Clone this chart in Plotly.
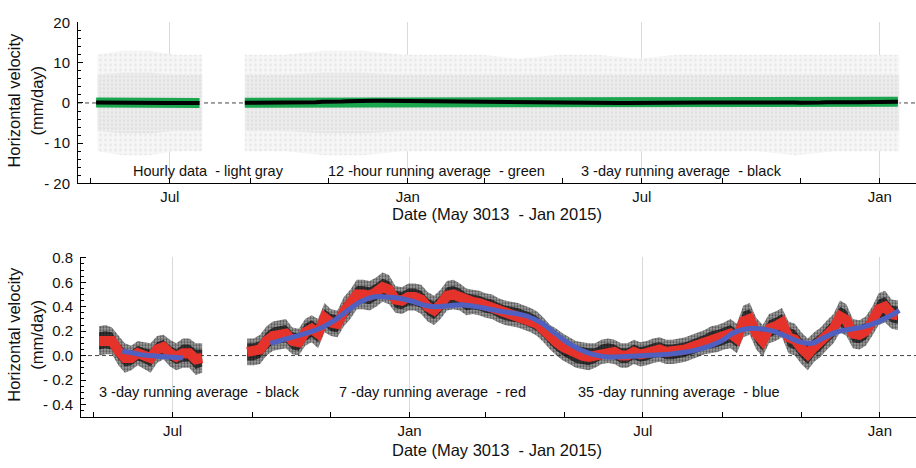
import pandas as pd
import plotly.graph_objects as go

# ---------------- data ----------------
# 5-day sampling grid for the running-average series
seg1_start = "2013-05-05"
seg2_start = "2013-08-28"
grid_step = "5D"

# 7-day running average (mm/day) - also the centre of the 3-day average cloud
run7_seg1 = [0.12, 0.13, 0.12, 0.04, -0.02, -0.02, 0.02, 0.00, -0.02, 0.05,
             0.07, 0.02, -0.01, 0.02, 0.02, -0.03, -0.02]
run7_seg2 = [0.03, 0.03, 0.05, 0.12, 0.16, 0.17, 0.18, 0.12, 0.11, 0.19,
             0.22, 0.18, 0.31, 0.27, 0.26, 0.36, 0.42, 0.50, 0.50, 0.49,
             0.52, 0.56, 0.54, 0.46, 0.45, 0.48, 0.48, 0.46, 0.40, 0.37,
             0.42, 0.49, 0.50, 0.48, 0.44, 0.44, 0.43, 0.41, 0.40, 0.37,
             0.35, 0.34, 0.33, 0.31, 0.29, 0.26, 0.21, 0.15, 0.11, 0.07,
             0.04, 0.01, 0.00, -0.01, 0.00, 0.03, 0.04, 0.03, 0.00, 0.00,
             0.03, 0.01, 0.02, 0.04, 0.05, 0.03, 0.03, 0.04, 0.05, 0.07,
             0.09, 0.11, 0.13, 0.14, 0.16, 0.18, 0.14, 0.28, 0.30, 0.18,
             0.12, 0.22, 0.24, 0.27, 0.15, 0.13, 0.06, 0.01, 0.07, 0.11,
             0.17, 0.22, 0.32, 0.29, 0.18, 0.17, 0.20, 0.28, 0.38, 0.40,
             0.34, 0.33]

# half-height of the 3-day running average cloud around the 7-day curve
spread3_seg1 = [0.12, 0.12, 0.11, 0.12, 0.12, 0.10, 0.10, 0.11, 0.12, 0.11,
                0.10, 0.11, 0.11, 0.12, 0.12, 0.13, 0.12]
spread3_seg2 = [0.11, 0.11, 0.12, 0.12, 0.12, 0.12, 0.12, 0.11, 0.11, 0.11,
                0.11, 0.12, 0.12, 0.11, 0.11, 0.12, 0.12, 0.12, 0.12, 0.12,
                0.12, 0.12, 0.12, 0.11, 0.11, 0.11, 0.11, 0.12, 0.12, 0.12,
                0.12, 0.12, 0.12, 0.11, 0.11, 0.10, 0.10, 0.10, 0.10, 0.10,
                0.10, 0.10, 0.10, 0.10, 0.10, 0.10, 0.10, 0.10, 0.11, 0.11,
                0.11, 0.11, 0.11, 0.11, 0.10, 0.10, 0.10, 0.10, 0.10, 0.10,
                0.10, 0.10, 0.10, 0.10, 0.10, 0.10, 0.10, 0.10, 0.10, 0.10,
                0.10, 0.10, 0.11, 0.11, 0.11, 0.12, 0.12, 0.13, 0.13, 0.13,
                0.13, 0.12, 0.12, 0.12, 0.13, 0.13, 0.13, 0.13, 0.12, 0.12,
                0.12, 0.12, 0.13, 0.13, 0.12, 0.12, 0.12, 0.12, 0.13, 0.13,
                0.12, 0.12]
# half-height of the densest part of that cloud
core3_seg1 = [0.07, 0.07, 0.07, 0.07, 0.07, 0.06, 0.06, 0.06, 0.07, 0.06,
              0.06, 0.06, 0.06, 0.07, 0.07, 0.08, 0.07]
core3_seg2 = [0.07, 0.07, 0.07, 0.07, 0.07, 0.07, 0.07, 0.07, 0.07, 0.07,
              0.07, 0.07, 0.07, 0.07, 0.07, 0.07, 0.07, 0.07, 0.07, 0.07,
              0.07, 0.07, 0.07, 0.07, 0.07, 0.07, 0.07, 0.07, 0.07, 0.07,
              0.07, 0.07, 0.07, 0.07, 0.07, 0.06, 0.06, 0.06, 0.06, 0.06,
              0.06, 0.06, 0.06, 0.06, 0.06, 0.06, 0.06, 0.06, 0.07, 0.07,
              0.07, 0.07, 0.07, 0.07, 0.06, 0.06, 0.06, 0.06, 0.06, 0.06,
              0.06, 0.06, 0.06, 0.06, 0.06, 0.06, 0.06, 0.06, 0.06, 0.06,
              0.06, 0.06, 0.07, 0.07, 0.07, 0.07, 0.07, 0.08, 0.08, 0.08,
              0.08, 0.07, 0.07, 0.07, 0.08, 0.08, 0.08, 0.08, 0.07, 0.07,
              0.07, 0.07, 0.08, 0.08, 0.07, 0.07, 0.07, 0.07, 0.08, 0.08,
              0.07, 0.07]

# 35-day running average (mm/day)
run35_dates1 = ["2013-05-23", "2013-06-01", "2013-06-06", "2013-06-19",
                "2013-06-28", "2013-07-09"]
run35_seg1 = [0.037, 0.02, 0.008, -0.005, -0.012, -0.02]
run35_dates2 = ["2013-09-15", "2013-09-25", "2013-10-05", "2013-10-15",
                "2013-10-25", "2013-11-04", "2013-11-14", "2013-11-24",
                "2013-12-04", "2013-12-14", "2013-12-24", "2014-01-03",
                "2014-01-13", "2014-01-23", "2014-02-02", "2014-02-12",
                "2014-02-22", "2014-03-04", "2014-03-14", "2014-03-24",
                "2014-04-03", "2014-04-13", "2014-04-23", "2014-05-03",
                "2014-05-13", "2014-05-23", "2014-06-02", "2014-06-12",
                "2014-06-22", "2014-07-02", "2014-07-12", "2014-07-22",
                "2014-08-01", "2014-08-11", "2014-08-21", "2014-08-31",
                "2014-09-10", "2014-09-20", "2014-09-30", "2014-10-10",
                "2014-10-20", "2014-10-30", "2014-11-09", "2014-11-19",
                "2014-11-29", "2014-12-09", "2014-12-19", "2014-12-29",
                "2015-01-08", "2015-01-16"]
run35_seg2 = [0.10, 0.13, 0.16, 0.19, 0.23, 0.29, 0.37, 0.44, 0.48, 0.48,
              0.47, 0.445, 0.41, 0.40, 0.41, 0.415, 0.40, 0.38, 0.36, 0.345,
              0.32, 0.27, 0.19, 0.11, 0.05, 0.01, -0.01, -0.01, -0.005, 0.0,
              0.005, 0.012, 0.025, 0.045, 0.075, 0.12, 0.19, 0.22, 0.22, 0.20,
              0.16, 0.115, 0.10, 0.15, 0.195, 0.215, 0.235, 0.27, 0.32, 0.37]

# hourly data envelope (mm/day): sparse outer cloud and dense core
hourly_dates1 = ["2013-05-06", "2013-05-25", "2013-06-15", "2013-07-05", "2013-07-26"]
hourly_hi1 = [12, 13, 13, 12, 12]
hourly_lo1 = [-12, -13, -13, -12, -12]
hourly_core_hi1 = [7, 7.5, 7.5, 7, 7]
hourly_core_lo1 = [-7, -7.5, -7.5, -7, -7]
hourly_dates2 = ["2013-08-28", "2013-09-28", "2013-10-28", "2013-11-28",
                 "2013-12-28", "2014-01-28", "2014-02-28", "2014-03-28",
                 "2014-04-28", "2014-05-28", "2014-06-28", "2014-07-28",
                 "2014-08-28", "2014-09-28", "2014-10-28", "2014-11-28",
                 "2014-12-28", "2015-01-16"]
hourly_hi2 = [12, 12, 13, 13, 12, 12, 12, 11, 12, 12, 11, 12, 12, 12, 12, 12, 12, 12]
hourly_lo2 = [-12, -12, -13, -13, -12, -12, -12, -12, -12, -12, -12, -12, -12, -12, -13, -12, -12, -12]
hourly_core_hi2 = [7, 7, 7.5, 7.5, 7, 7, 7, 7, 7, 7, 7, 7, 7, 7, 7, 7, 7, 7]
hourly_core_lo2 = [-7, -7, -7.5, -7.5, -7, -7, -7, -7, -7, -7, -7, -7, -7, -7, -7, -7, -7, -7]

x_range = ["2013-04-21", "2015-01-29"]
major_ticks = ["2013-07-01", "2014-01-01", "2014-07-01", "2015-01-01"]
major_labels = ["Jul", "Jan", "Jul", "Jan"]
top_yticks = [-20, -10, 0, 10, 20]
top_ylabels = ["- 20", "- 10", "0", "10", "20"]
bot_yticks = [-0.4, -0.2, 0.0, 0.2, 0.4, 0.6, 0.8]
bot_ylabels = ["- 0.4", "- 0.2", "0.0", "0.2", "0.4", "0.6", "0.8"]

# ---------------- build ----------------
d1 = list(pd.date_range(seg1_start, periods=len(run7_seg1), freq=grid_step))
d2 = list(pd.date_range(seg2_start, periods=len(run7_seg2), freq=grid_step))

W, H = 916, 468
FONT = "Liberation Sans, Arial, sans-serif"

fig = go.Figure()


def band(x, lo, hi, xa, ya, **kw):
    xs = list(x) + list(x)[::-1]
    ys = list(hi) + list(lo)[::-1]
    fig.add_trace(go.Scatter(x=xs, y=ys, xaxis=xa, yaxis=ya, mode="lines",
                             line=dict(width=0), fill="toself",
                             hoverinfo="skip", showlegend=False, **kw))


# ---- top panel ----
for dd, lo, hi in [(hourly_dates1, hourly_lo1, hourly_hi1),
                   (hourly_dates2, hourly_lo2, hourly_hi2)]:
    band(pd.to_datetime(dd), lo, hi, "x", "y", fillcolor="#f6f6f6",
         fillpattern=dict(shape=".", fgcolor="#d4d4d4", bgcolor="#f6f6f6",
                          size=5, solidity=0.2))
for dd, lo, hi in [(hourly_dates1, hourly_core_lo1, hourly_core_hi1),
                   (hourly_dates2, hourly_core_lo2, hourly_core_hi2)]:
    band(pd.to_datetime(dd), lo, hi, "x", "y", fillcolor="#ececec",
         fillpattern=dict(shape=".", fgcolor="#d2d2d2", bgcolor="#ececec",
                          size=4, solidity=0.3))
for dd, vv in [(d1, run7_seg1), (d2, run7_seg2)]:
    fig.add_trace(go.Scatter(x=dd, y=vv, xaxis="x", yaxis="y", mode="lines",
                             line=dict(color="#1aa64f", width=10),
                             hoverinfo="skip", showlegend=False))
for dd, vv in [(d1, run7_seg1), (d2, run7_seg2)]:
    fig.add_trace(go.Scatter(x=dd, y=vv, xaxis="x", yaxis="y", mode="lines",
                             line=dict(color="#000000", width=4),
                             hoverinfo="skip", showlegend=False))

# ---- bottom panel ----
for dd, vv, ss in [(d1, run7_seg1, spread3_seg1), (d2, run7_seg2, spread3_seg2)]:
    lo = [v - s for v, s in zip(vv, ss)]
    hi = [v + s for v, s in zip(vv, ss)]
    band(dd, lo, hi, "x2", "y2", fillcolor="rgba(50,50,50,0.45)",
         fillpattern=dict(shape=".", fgcolor="#000000",
                          bgcolor="rgba(70,70,70,0.45)", size=3, solidity=0.5))
for dd, vv, ss in [(d1, run7_seg1, core3_seg1), (d2, run7_seg2, core3_seg2)]:
    lo = [v - s for v, s in zip(vv, ss)]
    hi = [v + s for v, s in zip(vv, ss)]
    band(dd, lo, hi, "x2", "y2", fillcolor="rgba(0,0,0,0.65)")
for dd, vv in [(d1, run7_seg1), (d2, run7_seg2)]:
    fig.add_trace(go.Scatter(x=dd, y=vv, xaxis="x2", yaxis="y2", mode="lines",
                             line=dict(color="#e5332b", width=10),
                             hoverinfo="skip", showlegend=False))
for dd, vv in [(run35_dates1, run35_seg1), (run35_dates2, run35_seg2)]:
    fig.add_trace(go.Scatter(x=dd, y=vv, xaxis="x2", yaxis="y2", mode="lines",
                             line=dict(color="#5060c0", width=5, shape="spline"),
                             hoverinfo="skip", showlegend=False))

# ---- axes ----
def xaxis_cfg(domain, anchor):
    return dict(domain=domain, anchor=anchor, type="date", range=x_range,
                tickmode="array", tickvals=major_ticks, ticktext=major_labels,
                ticks="inside", ticklen=5, tickcolor="#000",
                showgrid=True, gridcolor="#d9d9d9", gridwidth=1,
                showline=True, linecolor="#000", linewidth=1,
                zeroline=False, tickfont=dict(size=15, color="#111"),
                minor=dict(dtick="M2", tick0="2013-05-01", ticks="inside",
                           ticklen=5, tickcolor="#000", showgrid=False))


def yaxis_cfg(domain, anchor, rng, tv, tt, mdt):
    return dict(domain=domain, anchor=anchor, range=rng,
                tickmode="array", tickvals=tv, ticktext=tt,
                ticks="inside", ticklen=5, tickcolor="#000",
                showgrid=False, zeroline=False,
                showline=True, linecolor="#000", linewidth=1,
                tickfont=dict(size=15, color="#111"), ticklabelstandoff=4,
                minor=dict(dtick=mdt, ticks="inside", ticklen=3, tickcolor="#000"))


fig.update_layout(
    width=W, height=H, margin=dict(l=0, r=0, t=0, b=0),
    paper_bgcolor="white", plot_bgcolor="white",
    font=dict(family=FONT, color="#111"),
    showlegend=False,
    xaxis=xaxis_cfg([78 / W, 1.0], "y"),
    yaxis=yaxis_cfg([1 - 181 / H, 1 - 14 / H], "x", [-20, 20], top_yticks, top_ylabels, 2),
    xaxis2=xaxis_cfg([81 / W, 1.0], "y2"),
    yaxis2=yaxis_cfg([1 - 423 / H, 1 - 257 / H], "x2", [-0.5, 0.81], bot_yticks, bot_ylabels, 0.05),
)

# zero reference lines
for xr, yr in [("x domain", "y"), ("x2 domain", "y2")]:
    fig.add_shape(type="line", xref=xr, yref=yr, x0=0, x1=1, y0=0, y1=0,
                  line=dict(color="#444", width=1, dash="4px,3px"), layer="below")

# texts
def txt(s, x, y, size, xanchor="left", angle=0):
    fig.add_annotation(text=s, x=x / W, y=1 - y / H, xref="paper", yref="paper",
                       showarrow=False, xanchor=xanchor, yanchor="middle",
                       textangle=angle, font=dict(size=size, color="#111", family=FONT))

NB = "\u00a0"
txt("Hourly data" + NB + " - light gray", 131, 168, 14.5)
txt("12 -hour running average" + NB + " - green", 326, 168, 14.5)
txt("3 -day running average" + NB + " - black", 579, 168, 14.5)
txt("3 -day running average" + NB + " - black", 97, 397, 14.5)
txt("7 -day running average" + NB + " - red", 337, 397, 14.5)
txt("35 -day running average" + NB + " - blue", 576, 397, 14.5)
txt("Date (May 3013" + NB + " - Jan 2015)", 497, 213, 16.5, xanchor="center")
txt("Date (May 3013" + NB + " - Jan 2015)", 497, 458, 16.5, xanchor="center")
for yc in (95, 338):
    txt("Horizontal velocity", 14, yc, 16.5, xanchor="center", angle=-90)
    txt("(mm/day)", 37, yc, 16.5, xanchor="center", angle=-90)

fig.write_html("out.html")
